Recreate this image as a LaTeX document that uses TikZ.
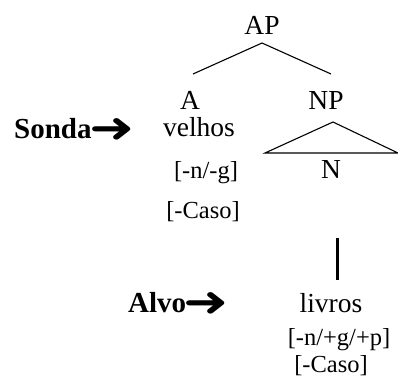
\documentclass[tikz,border=0pt]{standalone}
\usepackage{fontspec}
\setmainfont{Liberation Serif}
\newfontfamily\arrowfont{DejaVu Sans}
\newcommand{\heavyarrow}{\hspace{-2.5pt}\raisebox{-4.5pt}{\scalebox{1.35}[1.05]{\arrowfont\fontsize{40}{44}\selectfont ➜}}}
\begin{document}
\begin{tikzpicture}[x=1pt,y=1pt,
  lbl/.style={inner sep=0pt,anchor=base,font=\fontsize{27.5}{31}\selectfont},
  feat/.style={inner sep=0pt,anchor=base,font=\fontsize{24.5}{28}\selectfont},
  side/.style={inner sep=0pt,anchor=base west,font=\fontsize{29}{33}\selectfont\bfseries},
  branch/.style={line width=1.1pt},
  stem/.style={line width=3pt}]
\useasboundingbox (0,0) rectangle (398,378);
% labels
\node[lbl] (AP) at (262,343) {AP};
\node[lbl] (A) at (190,269) {A};
\node[lbl] (NP) at (326,269) {NP};
\node[side] (sonda) at (14,240) {Sonda\heavyarrow};
\node[lbl] (velhos) at (199,241) {velhos};
\node[feat] (f1) at (206,200) {[-n/-g]};
\node[lbl] (N) at (331,200) {N};
\node[feat] (f2) at (203,160) {[-Caso]};
\node[side] (alvo) at (128,66) {Alvo\heavyarrow};
\node[lbl] (livros) at (331,66) {livros};
\node[feat] (f3) at (339,33) {[-n/+g/+p]};
\node[feat] (f4) at (331,5.5) {[-Caso]};
% tree geometry
\coordinate (apx) at (262,335);
\coordinate (al) at (193,304);
\coordinate (ar) at (331,304);
\coordinate (tapex) at (333,256);
\coordinate (tl) at (265,225);
\coordinate (tr) at (398,225);
\coordinate (s1) at (337,140);
\coordinate (s2) at (337,98);
\draw[branch] (al) -- (apx) -- (ar);
\draw[branch] (tl) -- (tapex) -- (tr) -- cycle;
\draw[stem] (s1) -- (s2);
\end{tikzpicture}
\end{document}
